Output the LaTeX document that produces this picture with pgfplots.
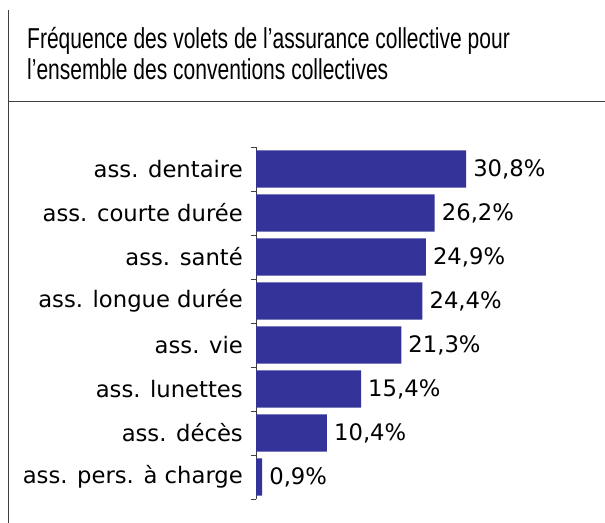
\documentclass[border=0pt]{standalone}
\usepackage{fontspec}
\usepackage{pgfplots}
\pgfplotsset{compat=1.18}
\newfontfamily\lab{DejaVu Sans}
\newfontfamily\titlef[FakeStretch=0.73]{Liberation Sans}
\definecolor{barblue}{RGB}{51,51,153}
\definecolor{framegray}{RGB}{64,64,64}
\begin{document}
\begin{tikzpicture}
\useasboundingbox (0,0) rectangle (605bp,523bp);
\draw[line width=1bp, framegray] (8bp,0) -- (8bp,513bp);
\draw[line width=1bp, framegray] (8bp,421bp) -- (605bp,421bp);
\node[anchor=base west, inner sep=0pt] at (27bp,474bp) {\titlef\fontsize{28.8bp}{31bp}\selectfont Fréquence des volets de l’assurance collective pour};
\node[anchor=base west, inner sep=0pt] at (27bp,443bp) {\titlef\fontsize{28.8bp}{31bp}\selectfont l’ensemble des conventions collectives};
\begin{axis}[
  at={(256bp,24bp)}, anchor=south west,
  scale only axis, width=341bp, height=352bp,
  xbar, bar width=0.85, clip=false,
  xmin=0, xmax=50, ymin=-0.5, ymax=7.5, y dir=reverse,
  axis lines*=left,
  x axis line style={draw=none}, xtick=\empty,
  y axis line style={draw=framegray, line width=1bp},
  ytick={0,...,7},
  yticklabels={ass. dentaire, ass. courte durée, ass. santé, ass. longue durée, ass. vie, ass. lunettes, ass. décès, ass. pers. à charge},
  minor ytick={-0.5,0.5,...,7.5},
  major tick length=0pt, minor tick length=5bp, tick align=outside,
  minor tick style={draw=framegray, line width=1bp},
  yticklabel style={font=\lab\fontsize{22.7bp}{27bp}\selectfont, inner sep=0pt, xshift=-13bp, text=black},
  point meta=x,
  nodes near coords={\pgfmathprintnumber[fixed,fixed zerofill,precision=1,use comma,assume math mode=true]{\pgfplotspointmeta}\%},
  nodes near coords style={font=\lab\fontsize{22.7bp}{27bp}\selectfont, anchor=west, inner sep=0pt, xshift=7bp, text=black},
]
\addplot[fill=barblue, draw=none] coordinates {(30.8,0) (26.2,1) (24.9,2) (24.4,3) (21.3,4) (15.4,5) (10.4,6) (0.9,7)};
\end{axis}
\end{tikzpicture}
\end{document}
